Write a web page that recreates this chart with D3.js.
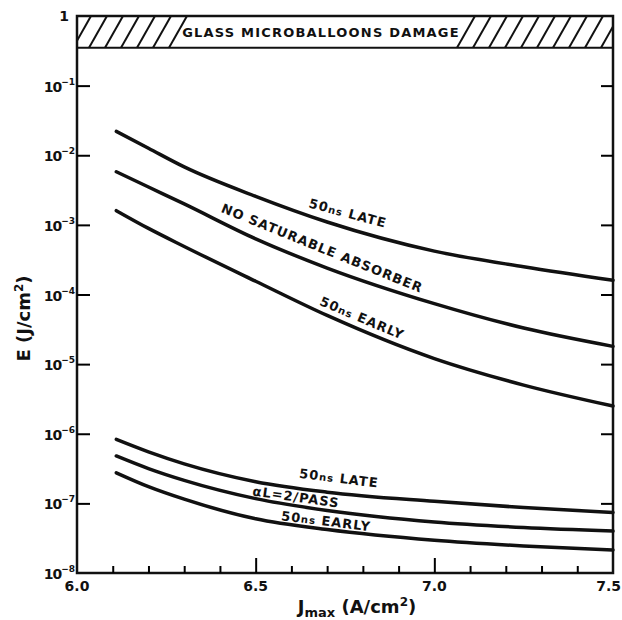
<!DOCTYPE html>
<html>
<head>
<meta charset="utf-8">
<script src="https://cdn.jsdelivr.net/npm/d3@7"></script>
<style>
body { margin: 0; background: #fff; }
text { font-family: "DejaVu Sans", sans-serif; font-weight: bold; fill: #111; }
</style>
</head>
<body>
<div id="chart"></div>
<script>
// plot box inside the 622x620 page
const margin = {top: 16, right: 9, bottom: 47, left: 77},
    width = 622 - margin.left - margin.right,
    height = 620 - margin.top - margin.bottom;

// Jmax (A/cm2) sample points
const jmax = [6.11, 6.2, 6.3, 6.5, 6.7, 7.0, 7.25, 7.5];

// E (J/cm2) for each curve
const lateHigh   = [2.2e-2, 1.26e-2, 6.8e-3, 2.57e-3, 1.1e-3, 4.2e-4, 2.5e-4, 1.6e-4];
const noAbsorber = [5.8e-3, 3.5e-3, 2.0e-3, 6.3e-4, 2.4e-4, 7.4e-5, 3.3e-5, 1.8e-5];
const earlyHigh  = [1.6e-3, 8.9e-4, 4.9e-4, 1.55e-4, 5.0e-5, 1.2e-5, 5.0e-6, 2.5e-6];
const lateLow    = [8.3e-7, 5.5e-7, 3.7e-7, 2.05e-7, 1.45e-7, 1.07e-7, 8.7e-8, 7.4e-8];
const alphaLow   = [4.8e-7, 3.16e-7, 2.14e-7, 1.17e-7, 7.9e-8, 5.4e-8, 4.5e-8, 4.0e-8];
const earlyLow   = [2.75e-7, 1.74e-7, 1.15e-7, 6.0e-8, 4.2e-8, 2.95e-8, 2.45e-8, 2.14e-8];

// damage threshold band (from here up to 1)
const damageLevel = 0.35;

// axis ticks
const yDecades = [-8, -7, -6, -5, -4, -3, -2, -1];
const xMajor = [6.0, 6.5, 7.0, 7.5];
const xMinor = [6.1, 6.2, 6.3, 6.4, 6.6, 6.7, 6.8, 6.9, 7.1, 7.2, 7.3, 7.4];

// curve labels: text parts, x value, E value, angle
const curveLabels = [
    {parts: ["50", "ns", " LATE"], jx: 6.758, e: 1.48e-3, angle: 15},
    {parts: ["NO SATURABLE ABSORBER"], jx: 6.686, e: 4.66e-4, angle: 22},
    {parts: ["50", "ns", " EARLY"], jx: 6.798, e: 4.6e-5, angle: 23},
    {parts: ["50", "ns", " LATE"], jx: 6.733, e: 2.31e-7, angle: 7},
    {parts: ["\u03b1L=2/PASS"], jx: 6.613, e: 1.24e-7, angle: 8},
    {parts: ["50", "ns", " EARLY"], jx: 6.697, e: 5.58e-8, angle: 7}
];

let svg = d3.select("#chart")
    .append("svg")
    .attr("width", width + margin.left + margin.right)
    .attr("height", height + margin.top + margin.bottom)
  .append("g")
    .attr("transform", `translate(${margin.left}, ${margin.top})`);

const x = d3.scaleLinear().domain([6.0, 7.5]).range([0, width]);
const y = d3.scaleLog().domain([1e-8, 1]).range([height, 0]);

// hatched damage band
const yb = y(damageLevel);
svg.append("clipPath").attr("id", "band")
  .append("rect").attr("width", width).attr("height", yb);

const hatch = d3.range(0, 40).map(k => -20 + 16 * k)
    .filter((xb, k) => (k <= 7 || k >= 25) && xb < width + 20);
svg.append("g").attr("clip-path", "url(#band)")
  .selectAll("line")
  .data(hatch)
  .join("line")
    .attr("x1", d => d).attr("y1", yb)
    .attr("x2", d => d + 18).attr("y2", 0)
    .attr("stroke", "#111").attr("stroke-width", 2);

svg.append("line")
    .attr("x1", 0).attr("x2", width)
    .attr("y1", yb).attr("y2", yb)
    .attr("stroke", "#111").attr("stroke-width", 2);

svg.append("text")
    .attr("x", 244).attr("y", yb / 2)
    .attr("dy", "0.36em")
    .attr("text-anchor", "middle")
    .attr("font-size", 13)
    .attr("letter-spacing", 1.2)
    .text("GLASS MICROBALLOONS DAMAGE");

// frame
svg.append("rect")
    .attr("width", width).attr("height", height)
    .attr("fill", "none").attr("stroke", "#111").attr("stroke-width", 2.5);

// ticks pointing inward
const tickVals = yDecades.slice(1).map(e => Math.pow(10, e));
svg.append("g")
    .call(d3.axisLeft(y).tickValues(tickVals).tickSize(-13).tickFormat(""))
    .call(g => g.select(".domain").remove())
    .selectAll("line").attr("stroke-width", 2);
svg.append("g")
    .attr("transform", `translate(${width},0)`)
    .call(d3.axisRight(y).tickValues(tickVals).tickSize(-12).tickFormat(""))
    .call(g => g.select(".domain").remove())
    .selectAll("line").attr("stroke-width", 2);

svg.append("g")
    .attr("transform", `translate(0,${height})`)
    .call(d3.axisBottom(x).tickValues(xMinor).tickSize(-7).tickFormat(""))
    .call(g => g.select(".domain").remove())
    .selectAll("line").attr("stroke-width", 2);
svg.append("g")
    .attr("transform", `translate(0,${height})`)
    .call(d3.axisBottom(x).tickValues([6.5, 7.0]).tickSize(-15).tickFormat(""))
    .call(g => g.select(".domain").remove())
    .selectAll("line").attr("stroke-width", 2);

// x tick labels (last one kept inside the page edge)
svg.append("g")
  .selectAll("text")
  .data(xMajor)
  .join("text")
    .attr("x", (d, i) => i === xMajor.length - 1 ? width + margin.right - 1 : x(d))
    .attr("y", height + 18)
    .attr("text-anchor", (d, i) => i === xMajor.length - 1 ? "end" : "middle")
    .attr("font-size", 14)
    .text(d => d.toFixed(1));

// y tick labels 10^-n
const yl = svg.append("g")
  .selectAll("text")
  .data(yDecades)
  .join("text")
    .attr("x", -2)
    .attr("y", d => y(Math.pow(10, d)) + 6)
    .attr("text-anchor", "end")
    .attr("font-size", 14);
yl.append("tspan").attr("letter-spacing", -1).text("10");
yl.append("tspan").attr("dy", -7).attr("font-size", 9).text(d => "\u2212" + (-d));

svg.append("text")
    .attr("x", -8).attr("y", y(1) + 5)
    .attr("text-anchor", "end")
    .attr("font-size", 14)
    .text("1");

// curves
const line = d3.line()
    .x((d, i) => x(jmax[i]))
    .y(d => y(d))
    .curve(d3.curveMonotoneX);

svg.append("g")
  .selectAll("path")
  .data([lateHigh, noAbsorber, earlyHigh, lateLow, alphaLow, earlyLow])
  .join("path")
    .attr("d", line)
    .attr("fill", "none")
    .attr("stroke", "#111")
    .attr("stroke-width", 3.5)
    .attr("stroke-linecap", "round");

// curve labels
const lab = svg.append("g")
  .selectAll("text")
  .data(curveLabels)
  .join("text")
    .attr("transform", d => `translate(${x(d.jx)},${y(d.e)}) rotate(${d.angle})`)
    .attr("dy", "0.36em")
    .attr("text-anchor", "middle")
    .attr("font-size", 13)
    .attr("letter-spacing", 1);
lab.selectAll("tspan")
  .data(d => d.parts)
  .join("tspan")
    .attr("font-size", (d, i, n) => n.length > 1 && i === 1 ? 10 : null)
    .text(d => d);

// axis titles
const yt = svg.append("text")
    .attr("transform", `translate(${-margin.left + 30},${y(1e-4) + 24}) rotate(-90)`)
    .attr("text-anchor", "middle")
    .attr("font-size", 18);
yt.append("tspan").text("E (J/cm");
yt.append("tspan").attr("dy", -7).attr("font-size", 12).text("2");
yt.append("tspan").attr("dy", 7).text(")");

const xt = svg.append("text")
    .attr("x", 280)
    .attr("y", height + 40)
    .attr("text-anchor", "middle")
    .attr("font-size", 18);
xt.append("tspan").text("J");
xt.append("tspan").attr("dy", 4).attr("font-size", 13).text("max");
xt.append("tspan").attr("dy", -4).text(" (A/cm");
xt.append("tspan").attr("dy", -7).attr("font-size", 12).text("2");
xt.append("tspan").attr("dy", 7).text(")");
</script>
</body>
</html>
